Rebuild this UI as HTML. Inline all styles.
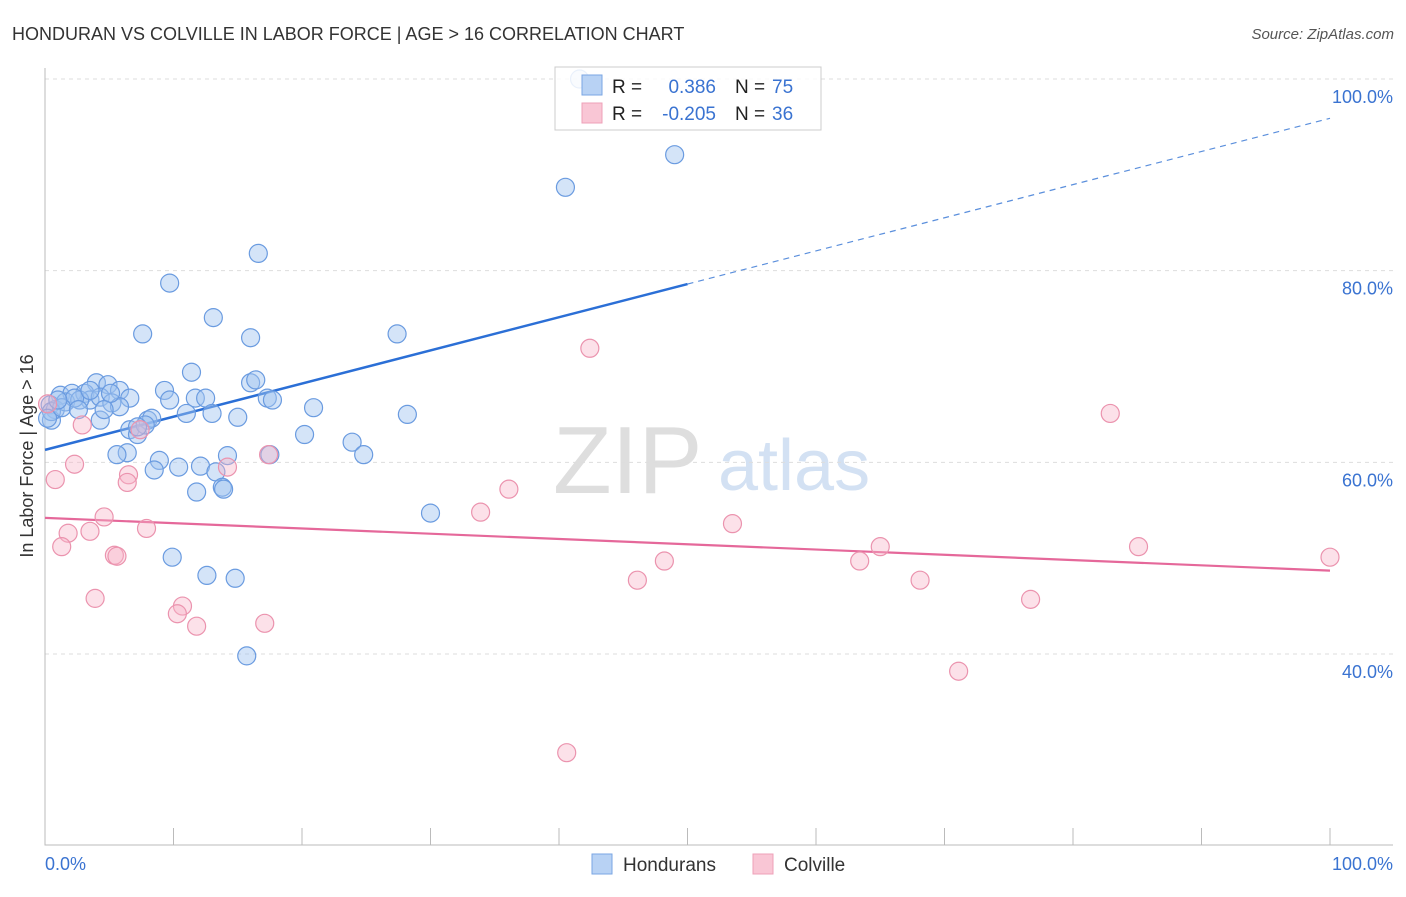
<!DOCTYPE html>
<html><head><meta charset="utf-8"><style>
body{margin:0;background:#fff;font-family:"Liberation Sans",sans-serif}
svg text{font-family:"Liberation Sans",sans-serif}
</style></head><body>
<svg id="c" width="1406" height="892">
<text x="12" y="40" font-size="18" fill="#333">HONDURAN VS COLVILLE IN LABOR FORCE | AGE &gt; 16 CORRELATION CHART</text>
<text x="1394" y="39" font-size="15" fill="#555" text-anchor="end" font-style="italic">Source: ZipAtlas.com</text>
<g>
<text x="553" y="493" font-size="96" font-family="Liberation Serif,serif" fill="#dedede">ZIP</text>
<text x="718" y="490" font-size="72" fill="#d3e1f3">atlas</text>
</g>
<g id="grid"></g>
<g id="axes"></g>
<g id="trend"></g>
<g id="pts"></g>
<text x="33" y="456" font-size="18" fill="#333" text-anchor="middle" transform="rotate(-90 33 456)">In Labor Force | Age &gt; 16</text>
<text x="45" y="870" font-size="18" fill="#3a73d1">0.0%</text>
<text x="1393" y="870" font-size="18" fill="#3a73d1" text-anchor="end">100.0%</text>
<g>
<rect x="555" y="67" width="266" height="63" fill="rgba(255,255,255,0.85)" stroke="#ccc"/>
<rect x="582" y="75" width="20" height="20" fill="#b8d2f4" stroke="#7aa6e3"/>
<rect x="582" y="103" width="20" height="20" fill="#f9c6d5" stroke="#eea0b8"/>
<text x="612" y="93" font-size="19" fill="#222">R = </text><text x="716" y="93" font-size="19" fill="#3a73d1" text-anchor="end">0.386</text>
<text x="735" y="93" font-size="19" fill="#222">N = </text><text x="772" y="93" font-size="19" fill="#3a73d1">75</text>
<text x="612" y="120" font-size="19" fill="#222">R = </text><text x="716" y="120" font-size="19" fill="#3a73d1" text-anchor="end">-0.205</text>
<text x="735" y="120" font-size="19" fill="#222">N = </text><text x="772" y="120" font-size="19" fill="#3a73d1">36</text>
</g>
<g>
<rect x="592" y="854" width="20" height="20" fill="#b8d2f4" stroke="#7aa6e3"/>
<text x="623" y="871" font-size="19" fill="#333">Hondurans</text>
<rect x="753" y="854" width="20" height="20" fill="#f9c6d5" stroke="#eea0b8"/>
<text x="784" y="871" font-size="19" fill="#333">Colville</text>
</g>
</svg>
<script>
const blueX=[41.6,49.0,40.5,16.6,9.7,13.1,7.6,16.0,27.4,11.4,4.0,4.9,5.8,9.3,16.0,16.4,1.2,2.1,3.1,3.5,4.3,5.2,6.6,9.7,11.7,12.5,17.3,17.7,0.4,0.8,1.6,2.7,5.8,20.9,11.0,13.0,15.0,28.2,0.5,4.3,8.0,8.3,6.6,7.2,20.2,23.9,6.4,5.6,8.9,10.4,8.5,12.1,14.2,13.3,17.5,24.8,11.8,13.8,13.9,30.0,9.9,12.6,14.8,15.7,0.5,0.2,2.3,3.5,7.8,1.3,1.0,7.2,5.1,2.6,4.6];
const blueY=[100,92.1,88.7,81.8,78.7,75.1,73.4,73.0,73.4,69.4,68.3,68.1,67.5,67.5,68.3,68.6,67.0,67.2,67.2,66.5,66.8,66.2,66.7,66.5,66.7,66.7,66.7,66.5,66.0,65.5,66.3,66.5,65.8,65.7,65.1,65.1,64.7,65.0,64.4,64.4,64.4,64.6,63.4,62.9,62.9,62.1,61.0,60.8,60.2,59.5,59.2,59.6,60.7,59.0,60.8,60.8,56.9,57.4,57.2,54.7,50.1,48.2,47.9,39.8,65.3,64.6,66.7,67.5,63.9,65.7,66.5,63.7,67.2,65.5,65.5];
const pinkX=[42.4,82.9,0.8,2.3,2.9,4.6,6.5,6.4,1.8,1.3,3.5,7.9,5.4,5.6,14.2,17.4,36.1,33.9,53.5,48.2,65.0,63.4,68.1,46.1,85.1,100,76.7,3.9,10.7,10.3,11.8,17.1,71.1,40.6,0.2,7.4];
const pinkY=[71.9,65.1,58.2,59.8,63.9,54.3,58.7,57.9,52.6,51.2,52.8,53.1,50.3,50.2,59.5,60.8,57.2,54.8,53.6,49.7,51.2,49.7,47.7,47.7,51.2,50.1,45.7,45.8,45.0,44.2,42.9,43.2,38.2,29.7,66.1,63.4];
const yTicks=[100,80,60,40];
const blueTrend=[61.3,95.9];
const pinkTrend=[54.2,48.7];
const NS='http://www.w3.org/2000/svg';
const xs=v=>45+v*12.85, ys=v=>79+(100-v)*9.583;
function mk(p,tag,a){const e=document.createElementNS(NS,tag);for(const k in a)e.setAttribute(k,a[k]);document.getElementById(p).appendChild(e);return e;}
yTicks.forEach(t=>{
 const g=mk('grid','line',{x1:45,x2:1393,y1:ys(t),y2:ys(t),stroke:'#ddd','stroke-dasharray':'4 4'});
 
 
 const l=mk('grid','text',{x:1393,y:ys(t)+24,'font-size':18,fill:'#3a73d1','text-anchor':'end'});
 l.textContent=t.toFixed(1)+'%';
 
 
});
const ax=mk('axes','path',{d:'M45 68V845H1393',stroke:'#bbb',fill:'none'});


for(let i=1;i<=10;i++){const t=mk('axes','line',{x1:xs(i*10),x2:xs(i*10),y1:828,y2:845,stroke:'#bbb'});
 
 }
function dot(x,y,fill,st){const c=mk('pts','circle',{cx:xs(x),cy:ys(y),r:9,fill:fill,stroke:st,'stroke-width':1.2});return c;}
blueX.forEach((x,i)=>{const c=dot(x,blueY[i],'rgba(160,195,240,0.45)','#6a9be0');
 
 });
pinkX.forEach((x,i)=>{const c=dot(x,pinkY[i],'rgba(248,180,200,0.4)','#eb93ae');
 
 });
const bm=blueTrend[0]+(blueTrend[1]-blueTrend[0])*0.5;
const b1=mk('trend','line',{x1:xs(0),y1:ys(blueTrend[0]),x2:xs(50),y2:ys(bm),stroke:'#2b6fd6','stroke-width':2.5});


const b2=mk('trend','line',{x1:xs(50),y1:ys(bm),x2:xs(100),y2:ys(blueTrend[1]),stroke:'#5b8fdc','stroke-width':1.2,'stroke-dasharray':'6 5'});


const p1=mk('trend','line',{x1:xs(0),y1:ys(pinkTrend[0]),x2:xs(100),y2:ys(pinkTrend[1]),stroke:'#e5689a','stroke-width':2.2});


</script>
</body></html>
